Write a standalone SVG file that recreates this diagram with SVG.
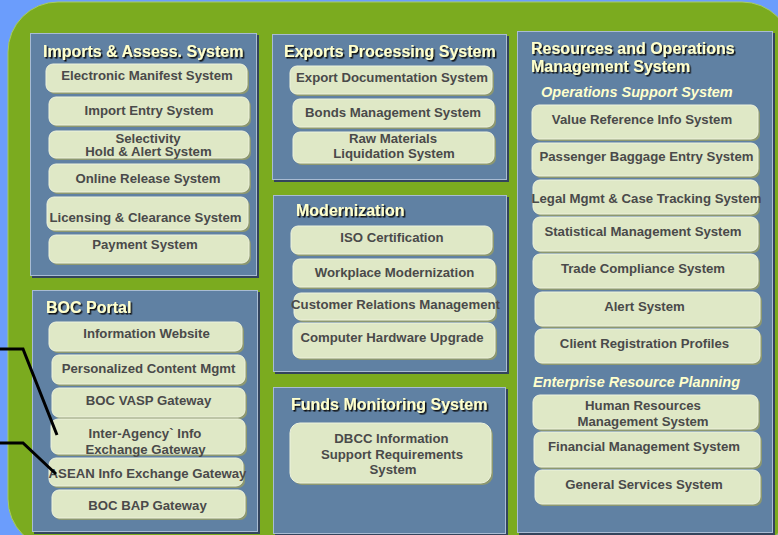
<svg xmlns="http://www.w3.org/2000/svg" width="778" height="535" viewBox="0 0 778 535">
<defs>
<filter id="ts" x="-5%" y="-20%" width="110%" height="150%"><feDropShadow dx="1.5" dy="1.5" stdDeviation="0.3" flood-color="#111" flood-opacity="1"/></filter>
</defs>
<style>
.panel{fill:#6081a3;stroke:#a9bcd3;stroke-width:1}
.psh{fill:#33445c}
.box{fill:#dfe8c6;stroke:#eef3dd;stroke-width:1}
.bsh{fill:#8d9870}
.bt{font-family:"Liberation Sans",Arial,sans-serif;font-weight:bold;font-size:13.2px;fill:#4a4a4a;text-anchor:middle}
.title{font-family:"Liberation Sans",Arial,sans-serif;font-weight:bold;font-size:16px;fill:#ffffcc;filter:url(#ts)}
.sub{font-family:"Liberation Sans",Arial,sans-serif;font-weight:bold;font-style:italic;font-size:14.5px;fill:#ffffcc}
.conn{fill:none;stroke:#000;stroke-width:3}
</style>
<rect x="0" y="0" width="778" height="535" fill="#6b9dfc"/>
<rect x="8" y="2" width="784" height="547" rx="50" ry="50" fill="#7bab1f" stroke="#a8cc62" stroke-width="1"/>

<g id="imports">
<rect class="psh" x="32" y="35" width="227" height="243"/>
<rect class="panel" x="30.5" y="33.5" width="226" height="242"/>
<text class="title" x="43" y="57">Imports &amp; Assess. System</text>
<g id="electronic-manifest"><rect class="bsh" x="48" y="66" width="201" height="28" rx="7"/><rect class="box" x="46" y="64" width="201" height="28" rx="7"/><text class="bt" x="147" y="80">Electronic Manifest System</text></g>
<g id="import-entry"><rect class="bsh" x="51" y="99" width="200" height="28" rx="7"/><rect class="box" x="49" y="97" width="200" height="28" rx="7"/><text class="bt" x="149" y="115">Import Entry System</text></g>
<g id="selectivity"><rect class="bsh" x="51" y="133" width="200" height="27" rx="7"/><rect class="box" x="49" y="131" width="200" height="27" rx="7"/><text class="bt" x="148" y="142.5">Selectivity</text><text class="bt" x="148.5" y="156">Hold &amp; Alert System</text></g>
<g id="online-release"><rect class="bsh" x="51" y="166" width="200" height="28" rx="7"/><rect class="box" x="49" y="164" width="200" height="28" rx="7"/><text class="bt" x="148" y="183">Online Release System</text></g>
<g id="licensing"><rect class="bsh" x="49" y="199" width="201" height="33" rx="7"/><rect class="box" x="47" y="197" width="201" height="33" rx="7"/><text class="bt" x="145.5" y="221.5">Licensing &amp; Clearance System</text></g>
<g id="payment"><rect class="bsh" x="51" y="237" width="200" height="28" rx="7"/><rect class="box" x="49" y="235" width="200" height="28" rx="7"/><text class="bt" x="145" y="249">Payment System</text></g>
</g>

<g id="exports">
<rect class="psh" x="274" y="36" width="235" height="146"/>
<rect class="panel" x="272.5" y="34.5" width="234" height="145"/>
<text class="title" x="284" y="57">Exports Processing System</text>
<g id="export-doc"><rect class="bsh" x="292" y="68" width="202" height="28" rx="7"/><rect class="box" x="290" y="66" width="202" height="28" rx="7"/><text class="bt" x="392" y="82">Export Documentation System</text></g>
<g id="bonds"><rect class="bsh" x="295" y="101" width="201" height="28" rx="7"/><rect class="box" x="293" y="99" width="201" height="28" rx="7"/><text class="bt" x="393" y="117">Bonds Management System</text></g>
<g id="raw-materials"><rect class="bsh" x="295" y="134" width="201" height="31" rx="7"/><rect class="box" x="293" y="132" width="201" height="31" rx="7"/><text class="bt" x="393" y="143">Raw Materials</text><text class="bt" x="394" y="158">Liquidation System</text></g>
</g>

<g id="modernization">
<rect class="psh" x="275" y="197" width="234" height="177"/>
<rect class="panel" x="273.5" y="195.5" width="233" height="176"/>
<text class="title" x="296" y="216">Modernization</text>
<g id="iso"><rect class="bsh" x="293" y="228" width="201" height="28" rx="7"/><rect class="box" x="291" y="226" width="201" height="28" rx="7"/><text class="bt" x="392" y="241.5">ISO Certification</text></g>
<g id="workplace"><rect class="bsh" x="295" y="261" width="202" height="28" rx="7"/><rect class="box" x="293" y="259" width="202" height="28" rx="7"/><text class="bt" x="394.5" y="276.5">Workplace Modernization</text></g>
<g id="crm"><rect class="bsh" x="296" y="295" width="201" height="27" rx="7"/><rect class="box" x="294" y="293" width="201" height="27" rx="7"/><text class="bt" x="395.5" y="308.5">Customer Relations Management</text></g>
<g id="hardware"><rect class="bsh" x="295" y="325" width="202" height="35" rx="7"/><rect class="box" x="293" y="323" width="202" height="35" rx="7"/><text class="bt" x="392" y="341.5">Computer Hardware Upgrade</text></g>
</g>

<g id="funds">
<rect class="psh" x="275" y="389" width="233" height="150"/>
<rect class="panel" x="273.5" y="387.5" width="232" height="146"/>
<text class="title" x="291" y="410">Funds Monitoring System</text>
<g id="dbcc"><rect class="bsh" x="292" y="425" width="201" height="60" rx="10"/><rect class="box" x="290" y="423" width="201" height="60" rx="10"/><text class="bt" x="391.5" y="442.5">DBCC Information</text><text class="bt" x="392" y="458.5">Support Requirements</text><text class="bt" x="393" y="474">System</text></g>
</g>

<g id="boc-portal">
<rect class="psh" x="34" y="292" width="226" height="242"/>
<rect class="panel" x="32.5" y="290.5" width="225" height="241"/>
<text class="title" x="46" y="313">BOC Portal</text>
<g id="info-website"><rect class="bsh" x="51" y="324" width="193" height="29" rx="7"/><rect class="box" x="49" y="322" width="193" height="29" rx="7"/><text class="bt" x="146.5" y="338">Information Website</text></g>
<g id="personalized"><rect class="bsh" x="54" y="357" width="193" height="29" rx="7"/><rect class="box" x="52" y="355" width="193" height="29" rx="7"/><text class="bt" x="148.5" y="373">Personalized Content Mgmt</text></g>
<g id="vasp"><rect class="bsh" x="54" y="390" width="193" height="29" rx="7"/><rect class="box" x="52" y="388" width="193" height="29" rx="7"/><text class="bt" x="148.5" y="404.5">BOC VASP Gateway</text></g>
<g id="inter-agency"><rect class="bsh" x="53" y="421" width="194" height="35" rx="7"/><rect class="box" x="51" y="419" width="194" height="35" rx="7"/><text class="bt" x="145" y="438">Inter-Agency` Info</text><text class="bt" x="145.5" y="453.5">Exchange Gateway</text></g>
<g id="asean"><rect class="bsh" x="51" y="460" width="194" height="28" rx="7"/><rect class="box" x="49" y="458" width="194" height="28" rx="7"/><text class="bt" x="147.5" y="477.5">ASEAN Info Exchange Gateway</text></g>
<g id="bap"><rect class="bsh" x="54" y="492" width="193" height="28" rx="7"/><rect class="box" x="52" y="490" width="193" height="28" rx="7"/><text class="bt" x="147.5" y="509.5">BOC BAP Gateway</text></g>
</g>

<g id="resources">
<rect class="psh" x="519" y="33" width="256" height="502"/>
<rect class="panel" x="517.5" y="31.5" width="255" height="501"/>
<text class="title" x="531" y="54">Resources and Operations</text>
<text class="title" x="531" y="72">Management System</text>
<text class="sub" x="541" y="97">Operations Support System</text>
<g id="value-ref"><rect class="bsh" x="534" y="107" width="226" height="34" rx="7"/><rect class="box" x="532" y="105" width="226" height="34" rx="7"/><text class="bt" x="642" y="124">Value Reference Info System</text></g>
<g id="passenger"><rect class="bsh" x="534" y="145" width="226" height="33" rx="7"/><rect class="box" x="532" y="143" width="226" height="33" rx="7"/><text class="bt" x="646.5" y="161">Passenger Baggage Entry System</text></g>
<g id="legal"><rect class="bsh" x="535" y="182" width="225" height="34" rx="7"/><rect class="box" x="533" y="180" width="225" height="34" rx="7"/><text class="bt" x="646.5" y="203">Legal Mgmt &amp; Case Tracking System</text></g>
<g id="statistical"><rect class="bsh" x="535" y="219" width="225" height="34" rx="7"/><rect class="box" x="533" y="217" width="225" height="34" rx="7"/><text class="bt" x="643" y="236">Statistical Management System</text></g>
<g id="trade"><rect class="bsh" x="535" y="256" width="225" height="34" rx="7"/><rect class="box" x="533" y="254" width="225" height="34" rx="7"/><text class="bt" x="643" y="273">Trade Compliance System</text></g>
<g id="alert"><rect class="bsh" x="537" y="294" width="225" height="34" rx="7"/><rect class="box" x="535" y="292" width="225" height="34" rx="7"/><text class="bt" x="644.5" y="311">Alert System</text></g>
<g id="client-reg"><rect class="bsh" x="537" y="331" width="225" height="34" rx="7"/><rect class="box" x="535" y="329" width="225" height="34" rx="7"/><text class="bt" x="644.5" y="348">Client Registration Profiles</text></g>
<text class="sub" x="533" y="387">Enterprise Resource Planning</text>
<g id="hr"><rect class="bsh" x="535" y="397" width="225" height="34" rx="7"/><rect class="box" x="533" y="395" width="225" height="34" rx="7"/><text class="bt" x="643" y="410">Human Resources</text><text class="bt" x="643" y="426">Management System</text></g>
<g id="financial"><rect class="bsh" x="536" y="434" width="226" height="35" rx="7"/><rect class="box" x="534" y="432" width="226" height="35" rx="7"/><text class="bt" x="644" y="451">Financial Management System</text></g>
<g id="general"><rect class="bsh" x="537" y="472" width="225" height="34" rx="7"/><rect class="box" x="535" y="470" width="225" height="34" rx="7"/><text class="bt" x="644" y="489">General Services System</text></g>
</g>

<g id="connectors">
<polyline class="conn" points="0,349 23,349 57,435"/>
<polyline class="conn" points="0,443 23,443 56,474"/>
</g>
</svg>
